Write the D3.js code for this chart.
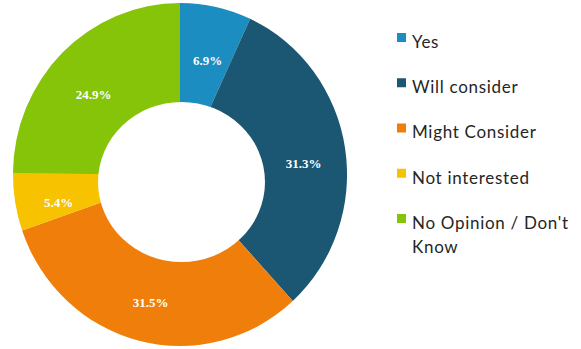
<!DOCTYPE html>
<html>
<head>
<meta charset="utf-8">
<script src="https://cdn.jsdelivr.net/npm/d3@7"></script>
<style>
  body { margin: 0; background: #fff; }
  svg { display: block; }
</style>
</head>
<body>
<svg id="chart"></svg>
<script>
var categories = ['Yes', 'Will consider', 'Might Consider', 'Not interested', "No Opinion / Don't Know"];
var legendLines = [['Yes'], ['Will consider'], ['Might Consider'], ['Not interested'], ["No Opinion / Don't", 'Know']];
var values = [6.9, 31.3, 31.5, 5.4, 24.9];
var colors = ['#1b8dc0', '#1b5672', '#ef7f0a', '#f7c200', '#86c40a'];

var width = 581, height = 349;
var outerR = 171.5;

var svg = d3.select('#chart').attr('width', width).attr('height', height);

var pie = d3.pie().sort(null).value(function(d) { return d; });
var arc = d3.arc().innerRadius(50).outerRadius(outerR);
var labelArc = d3.arc().innerRadius(124).outerRadius(124);
var color = d3.scaleOrdinal().domain(categories).range(colors);

var arcs = pie(values);

// ring, a touch narrower than tall like the source
var g = svg.append('g').attr('transform', 'translate(180,174.5) scale(0.974,1)');

g.selectAll('path.slice')
  .data(arcs)
  .enter()
  .append('path')
  .attr('class', 'slice')
  .attr('d', arc)
  .attr('fill', function(d, i) { return color(categories[i]); });

// hole sits a bit low in the source
svg.append('ellipse')
  .attr('cx', 181.5)
  .attr('cy', 182)
  .attr('rx', 83.5)
  .attr('ry', 80)
  .attr('fill', '#fff');

var lg = svg.append('g').attr('transform', 'translate(181,182)');

lg.selectAll('text.pct')
  .data(arcs)
  .enter()
  .append('text')
  .attr('class', 'pct')
  .attr('transform', function(d) { return 'translate(' + labelArc.centroid(d) + ')'; })
  .attr('text-anchor', 'middle')
  .attr('dy', '0.35em')
  .attr('fill', '#fff')
  .style('font-family', '"Liberation Serif", serif')
  .style('font-weight', 'bold')
  .style('font-size', '13px')
  .text(function(d) { return d.value.toFixed(1) + '%'; });

// Legend
var legend = svg.append('g').attr('transform', 'translate(397,0)');
var rowY = d3.scalePoint().domain(categories).range([42, 223]);

var item = legend.selectAll('g.item')
  .data(categories)
  .enter()
  .append('g')
  .attr('class', 'item')
  .attr('transform', function(d) { return 'translate(0,' + rowY(d) + ')'; });

item.append('rect')
  .attr('x', 0)
  .attr('y', -9)
  .attr('width', 9)
  .attr('height', 9)
  .attr('fill', function(d) { return color(d); });

item.append('text')
  .attr('y', 0)
  .attr('fill', '#262626')
  .style('font-family', 'Lato, sans-serif')
  .style('font-size', '17px')
  .style('letter-spacing', '0.7px')
  .selectAll('tspan')
  .data(function(d, i) { return legendLines[i]; })
  .enter()
  .append('tspan')
  .attr('x', 15)
  .attr('dy', function(d, j) { return j === 0 ? '0.35em' : '1.4em'; })
  .text(function(d) { return d; });
</script>
</body>
</html>
